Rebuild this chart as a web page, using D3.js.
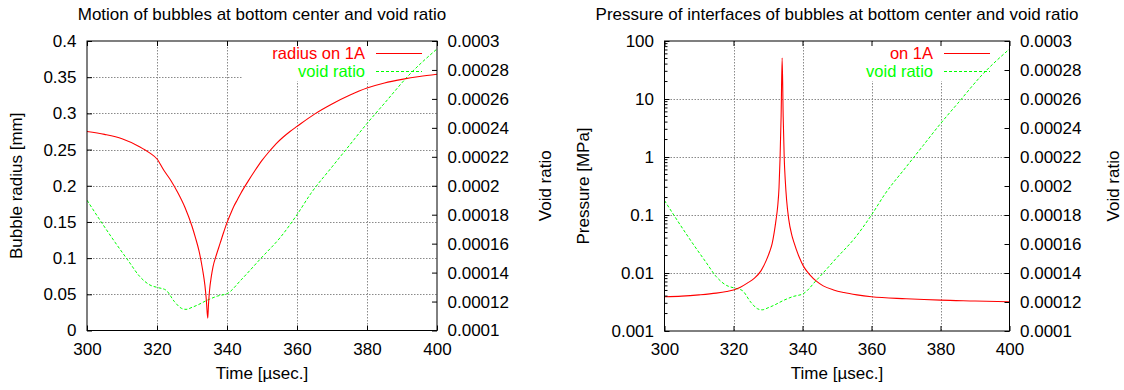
<!DOCTYPE html>
<html><head><meta charset="utf-8">
<script src="https://cdn.jsdelivr.net/npm/d3@7"></script>
<style>
body{margin:0;background:#fff;}
text{font-family:"Liberation Sans",Arial,Helvetica,sans-serif;font-size:17px;fill:#000;}
</style>
</head><body>
<svg id="c" width="1124" height="390"></svg>
<script>
// ---------- data ----------
const timeTicks = [300, 320, 340, 360, 380, 400];
const radiusTicks = [0, 0.05, 0.1, 0.15, 0.2, 0.25, 0.3, 0.35, 0.4];
const radiusTickLabels = ["0", "0.05", "0.1", "0.15", "0.2", "0.25", "0.3", "0.35", "0.4"];
const voidTicks = [0.0001, 0.00012, 0.00014, 0.00016, 0.00018, 0.0002, 0.00022, 0.00024, 0.00026, 0.00028, 0.0003];
const voidTickLabels = ["0.0001", "0.00012", "0.00014", "0.00016", "0.00018", "0.0002", "0.00022", "0.00024", "0.00026", "0.00028", "0.0003"];
const pressureTicks = [0.001, 0.01, 0.1, 1, 10, 100];
const pressureTickLabels = ["0.001", "0.01", "0.1", "1", "10", "100"];

const radiusTime  = [300, 305, 310, 315, 318, 320, 322, 324, 326, 328, 330, 331, 332, 333, 333.7, 334.1, 334.5, 334.7, 335, 335.5, 336, 337, 338, 339, 340, 341, 342, 343, 344, 346, 348, 350, 352, 354, 356, 358, 360, 365, 370, 375, 380, 385, 390, 395, 400];
const radiusValue = [0.275, 0.271, 0.265, 0.254, 0.245, 0.237, 0.221, 0.207, 0.19, 0.17, 0.144, 0.128, 0.11, 0.085, 0.062, 0.042, 0.017, 0.035, 0.055, 0.074, 0.088, 0.105, 0.12, 0.135, 0.149, 0.161, 0.172, 0.181, 0.19, 0.206, 0.221, 0.235, 0.247, 0.258, 0.267, 0.275, 0.282, 0.299, 0.313, 0.325, 0.335, 0.342, 0.347, 0.351, 0.354];

const voidTime  = [300, 304, 308, 312, 315, 318, 320, 322.5, 325, 327, 328.3, 330, 331.6, 334.5, 337.3, 340.2, 344, 349.7, 355.4, 360, 364, 370, 375, 380, 385, 392, 400];
const voidValue = [0.000190, 0.0001752, 0.000161, 0.0001475, 0.0001375, 0.0001314, 0.0001298, 0.000128, 0.0001199, 0.0001153, 0.0001146, 0.000116, 0.0001176, 0.0001211, 0.0001238, 0.0001257, 0.0001349, 0.0001499, 0.0001648, 0.00018, 0.0001948, 0.000213, 0.000228, 0.000243, 0.000257, 0.0002765, 0.0002945];

const pressureTime  = [300, 305, 310, 315, 318, 320, 322, 324, 326, 328, 329.5, 330.5, 331.2, 331.8, 332.3, 332.8, 333.2, 333.5, 333.8, 334.1, 334.4, 334.7, 335, 335.4, 336, 336.9, 337.5, 339, 340.3, 342, 344.2, 346, 349, 352, 355.8, 360, 370, 380, 390, 400];
const pressureValue = [0.0039, 0.004, 0.0042, 0.0045, 0.0048, 0.0051, 0.0057, 0.0067, 0.0081, 0.011, 0.0165, 0.0235, 0.032, 0.05, 0.08, 0.14, 0.3, 0.97, 5, 51, 5, 0.97, 0.4, 0.18, 0.085, 0.045, 0.034, 0.019, 0.013, 0.0095, 0.0071, 0.006, 0.0051, 0.0046, 0.0042, 0.0039, 0.0036, 0.0034, 0.0033, 0.0032];

// ---------- drawing ----------
const svg = d3.select("#c");
const RED = "#ff0000", GREEN = "#00ff00", GRID = "#8a8a8a";
const FS = "17px";

function panel(cfg) {
  const g = svg.append("g");
  const x = d3.scaleLinear().domain([300, 400]).range([cfg.x0, cfg.x1]);
  const y = cfg.yScale.range([cfg.y1, cfg.y0]);
  const y2 = d3.scaleLinear().domain([0.0001, 0.0003]).range([cfg.y1, cfg.y0]);
  const clipId = "clip" + cfg.id;
  svg.append("clipPath").attr("id", clipId).append("rect")
    .attr("x", cfg.x0).attr("y", cfg.y0).attr("width", cfg.x1 - cfg.x0).attr("height", cfg.y1 - cfg.y0);

  // grid
  const grid = g.append("g").attr("stroke", GRID).attr("stroke-width", 1).attr("stroke-dasharray", "1.5,1.5");
  timeTicks.slice(1, -1).forEach(t => grid.append("line")
    .attr("x1", Math.round(x(t)) + 0.5).attr("x2", Math.round(x(t)) + 0.5).attr("y1", cfg.y0).attr("y2", cfg.y1));
  cfg.yTicks.slice(1, -1).forEach(v => grid.append("line")
    .attr("x1", cfg.x0).attr("x2", cfg.x1).attr("y1", Math.round(y(v)) + 0.5).attr("y2", Math.round(y(v)) + 0.5));

  // key background (gnuplot clears grid under the key)
  g.append("rect").attr("x", cfg.keyX).attr("y", cfg.y0 + 1).attr("width", cfg.x1 - cfg.keyX).attr("height", 39).attr("fill", "#fff");

  // data
  const data = g.append("g").attr("clip-path", `url(#${clipId})`).attr("fill", "none");
  data.append("path")
    .datum(voidTime.map((t, i) => [t, voidValue[i]]))
    .attr("stroke", GREEN).attr("stroke-width", 1).attr("stroke-dasharray", "3,2")
    .attr("d", d3.line().x(d => x(d[0])).y(d => y2(d[1])).curve(d3.curveMonotoneX));
  data.append("path")
    .datum(cfg.redT.map((t, i) => [t, cfg.redV[i]]))
    .attr("stroke", RED).attr("stroke-width", 1.1)
    .attr("d", d3.line().x(d => x(d[0])).y(d => y(d[1])).curve(d3.curveMonotoneX));

  // axes
  const ax = g.append("g");
  ax.append("g").attr("transform", `translate(0,${cfg.y1})`)
    .call(d3.axisBottom(x).tickValues(timeTicks).tickFormat(d3.format("d")).tickSize(-5).tickPadding(12));
  ax.append("g").attr("transform", `translate(0,${cfg.y0})`)
    .call(d3.axisTop(x).tickValues(timeTicks).tickFormat("").tickSize(-5));
  ax.append("g").attr("transform", `translate(${cfg.x0},0)`)
    .call(d3.axisLeft(y).tickValues(cfg.yTicks).tickFormat((d, i) => cfg.yLabels[i]).tickSize(-5).tickPadding(10.5));
  ax.append("g").attr("transform", `translate(${cfg.x1},0)`)
    .call(d3.axisRight(y2).tickValues(voidTicks).tickFormat((d, i) => voidTickLabels[i]).tickSize(-5).tickPadding(10.5));
  if (cfg.minor) {
    const mg = ax.append("g").attr("stroke", "#000");
    cfg.minor.forEach(v => mg.append("line")
      .attr("x1", cfg.x0).attr("x2", cfg.x0 + 3).attr("y1", y(v)).attr("y2", y(v)));
  }
  ax.selectAll(".domain").remove();
  ax.selectAll("text").attr("font-size", null).attr("font-family", null).style("font-size", FS);
  ax.selectAll(".tick line").attr("stroke", "#000");
  g.append("rect").attr("x", cfg.x0).attr("y", cfg.y0).attr("width", cfg.x1 - cfg.x0).attr("height", cfg.y1 - cfg.y0)
    .attr("fill", "none").attr("stroke", "#000").attr("stroke-width", 1);

  // titles / labels
  const cx = (cfg.x0 + cfg.x1) / 2, cy = (cfg.y0 + cfg.y1) / 2;
  g.append("text").attr("x", cx).attr("y", 19.5).attr("text-anchor", "middle").text(cfg.title);
  g.append("text").attr("x", cx).attr("y", 379).attr("text-anchor", "middle").text("Time [\u00b5sec.]");
  g.append("text").attr("transform", `translate(${cfg.yLabX},${cy}) rotate(-90)`).attr("text-anchor", "middle").text(cfg.yLabel);
  g.append("text").attr("transform", `translate(${cfg.y2LabX},${cy}) rotate(-90)`).attr("text-anchor", "middle").text("Void ratio");

  // key
  const k = g.append("g").style("font-size", "16.5px");
  k.append("text").attr("x", cfg.keyTextX).attr("y", 58.5).attr("text-anchor", "end").style("fill", RED).style("font-size", "16.5px").text(cfg.redName);
  k.append("line").attr("x1", cfg.keyTextX + 11).attr("x2", cfg.keyTextX + 57).attr("y1", 53.5).attr("y2", 53.5)
    .attr("stroke", RED).attr("stroke-width", 1.1);
  k.append("text").attr("x", cfg.keyTextX).attr("y", 77).attr("text-anchor", "end").style("fill", GREEN).style("font-size", "16.5px").text("void ratio");
  k.append("line").attr("x1", cfg.keyTextX + 11).attr("x2", cfg.keyTextX + 57).attr("y1", 71.5).attr("y2", 71.5)
    .attr("stroke", GREEN).attr("stroke-width", 1).attr("stroke-dasharray", "3,2");
}

const minorLog = [];
for (let e = -3; e < 2; e++) for (let m = 2; m <= 9; m++) minorLog.push(m * Math.pow(10, e));

panel({
  id: "L", x0: 87, x1: 437, y0: 41, y1: 330.5,
  yScale: d3.scaleLinear().domain([0, 0.4]),
  yTicks: radiusTicks, yLabels: radiusTickLabels,
  redT: radiusTime, redV: radiusValue,
  title: "Motion of bubbles at bottom center and void ratio",
  yLabel: "Bubble radius [mm]", yLabX: 21.5, y2LabX: 550.5,
  keyX: 242, keyTextX: 365, redName: "radius on 1A"
});
panel({
  id: "R", x0: 664.5, x1: 1009.5, y0: 41, y1: 331,
  yScale: d3.scaleLog().domain([0.001, 100]),
  yTicks: pressureTicks, yLabels: pressureTickLabels, minor: minorLog,
  redT: pressureTime, redV: pressureValue,
  title: "Pressure of interfaces of bubbles at bottom center and void ratio",
  yLabel: "Pressure [MPa]", yLabX: 589, y2LabX: 1119,
  keyX: 836, keyTextX: 933, redName: "on 1A"
});
</script>
</body></html>
